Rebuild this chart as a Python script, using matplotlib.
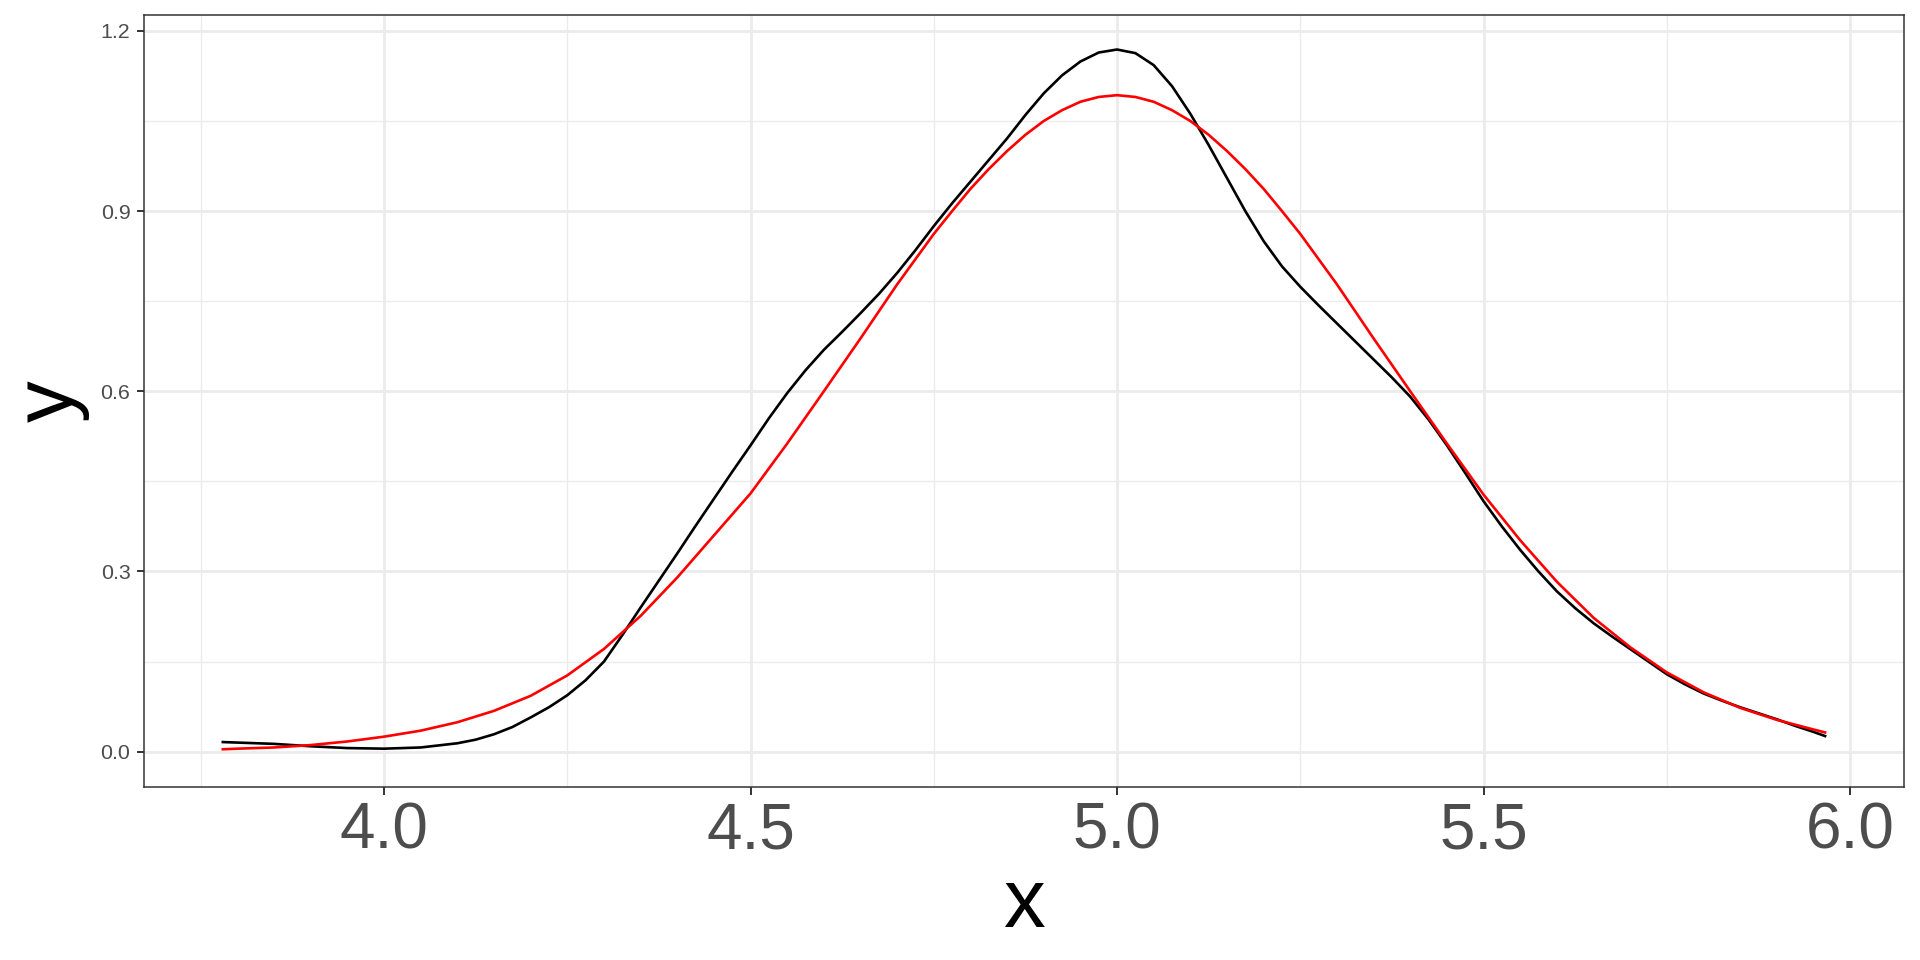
import matplotlib
matplotlib.use('Agg')
import matplotlib.pyplot as plt
from matplotlib.ticker import MultipleLocator

plt.rcParams['font.family'] = ['Liberation Sans', 'DejaVu Sans']

# values
# kernel density (black)
dens_x = [3.78, 3.85, 3.90, 3.95, 4.00, 4.05, 4.10, 4.125, 4.15, 4.175,
          4.20, 4.225, 4.25, 4.275, 4.30, 4.325, 4.35, 4.375, 4.40, 4.425,
          4.45, 4.475, 4.50, 4.525, 4.55, 4.575, 4.60, 4.625, 4.65, 4.675,
          4.70, 4.725, 4.75, 4.775, 4.80, 4.825, 4.85, 4.875, 4.90, 4.925,
          4.95, 4.975, 5.00, 5.025, 5.05, 5.075, 5.10, 5.125, 5.15, 5.175,
          5.20, 5.225, 5.25, 5.275, 5.30, 5.325, 5.35, 5.375, 5.40, 5.425,
          5.45, 5.475, 5.50, 5.525, 5.55, 5.575, 5.60, 5.625, 5.65, 5.675,
          5.70, 5.725, 5.75, 5.775, 5.80, 5.825, 5.85, 5.875, 5.90, 5.925,
          5.95, 5.966]
dens_y = [0.016, 0.013, 0.009, 0.006, 0.005, 0.007, 0.014, 0.020, 0.029, 0.041,
          0.057, 0.074, 0.094, 0.119, 0.150, 0.194, 0.240, 0.285, 0.330, 0.376,
          0.421, 0.466, 0.510, 0.555, 0.597, 0.635, 0.669, 0.699, 0.730, 0.762,
          0.797, 0.835, 0.875, 0.913, 0.949, 0.985, 1.021, 1.060, 1.096, 1.126,
          1.149, 1.164, 1.169, 1.163, 1.143, 1.108, 1.062, 1.010, 0.955, 0.900,
          0.850, 0.808, 0.774, 0.743, 0.713, 0.683, 0.653, 0.623, 0.591, 0.553,
          0.510, 0.464, 0.417, 0.375, 0.336, 0.300, 0.267, 0.239, 0.214, 0.192,
          0.171, 0.150, 0.129, 0.112, 0.097, 0.085, 0.074, 0.064, 0.054, 0.043,
          0.033, 0.026]

# fitted normal curve (red)
norm_x = [3.78, 3.80, 3.85, 3.90, 3.95, 4.00, 4.05, 4.10, 4.15, 4.20,
          4.25, 4.30, 4.35, 4.40, 4.45, 4.50, 4.55, 4.60, 4.65, 4.70,
          4.75, 4.775, 4.80, 4.825, 4.85, 4.875, 4.90, 4.925, 4.95, 4.975,
          5.00, 5.025, 5.05, 5.075, 5.10, 5.125, 5.15, 5.175, 5.20, 5.225,
          5.25, 5.30, 5.35, 5.40, 5.45, 5.50, 5.55, 5.60, 5.65, 5.70,
          5.75, 5.80, 5.85, 5.90, 5.95, 5.966]
norm_y = [0.004, 0.005, 0.007, 0.011, 0.017, 0.025, 0.035, 0.049, 0.068, 0.093,
          0.127, 0.171, 0.226, 0.290, 0.360, 0.430, 0.513, 0.600, 0.688, 0.778,
          0.862, 0.900, 0.937, 0.970, 1.000, 1.027, 1.050, 1.068, 1.082, 1.090,
          1.093, 1.090, 1.082, 1.068, 1.050, 1.027, 1.000, 0.970, 0.937, 0.900,
          0.862, 0.778, 0.688, 0.600, 0.513, 0.428, 0.352, 0.283, 0.223, 0.174,
          0.132, 0.099, 0.073, 0.053, 0.037, 0.032]

x_ticks = [4.0, 4.5, 5.0, 5.5, 6.0]
y_ticks = [0.0, 0.3, 0.6, 0.9, 1.2]

fig = plt.figure(figsize=(19.2, 9.6), dpi=100)
ax = fig.add_axes([0.0752, 0.1799, 0.9166, 0.8045])

ax.plot(dens_x, dens_y, color='black', lw=1.9, zorder=3, solid_joinstyle='round')
ax.plot(norm_x, norm_y, color='red', lw=1.9, zorder=4, solid_joinstyle='round')

ax.set_xlim(3.673, 6.074)
ax.set_ylim(-0.0593, 1.2265)

ax.set_xticks(x_ticks)
ax.set_xticklabels(['%.1f' % v for v in x_ticks])
ax.set_yticks(y_ticks)
ax.set_yticklabels(['%.1f' % v for v in y_ticks])
ax.xaxis.set_minor_locator(MultipleLocator(0.25))
ax.yaxis.set_minor_locator(MultipleLocator(0.15))

ax.grid(which='major', color='#EBEBEB', lw=2.0)
ax.grid(which='minor', color='#EBEBEB', lw=1.0)
ax.set_axisbelow(True)

ax.tick_params(axis='x', which='major', length=5.5, width=1.4, color='#333333',
               labelsize=46, labelcolor='#4D4D4D', pad=4.8)
ax.tick_params(axis='y', which='major', length=5, width=1.4, color='#333333',
               labelsize=15.4, labelcolor='#4D4D4D', pad=5)
ax.tick_params(which='minor', length=0)

for s in ax.spines.values():
    s.set_color('#333333')
    s.set_linewidth(1.1)

fig.text(0.5335, 0.0344, 'x', fontsize=60, ha='center', va='baseline')
fig.text(0.047, 0.5823, 'y', fontsize=60, rotation=90, ha='right', va='center')

fig.savefig('out.png', dpi=100, facecolor='white')
